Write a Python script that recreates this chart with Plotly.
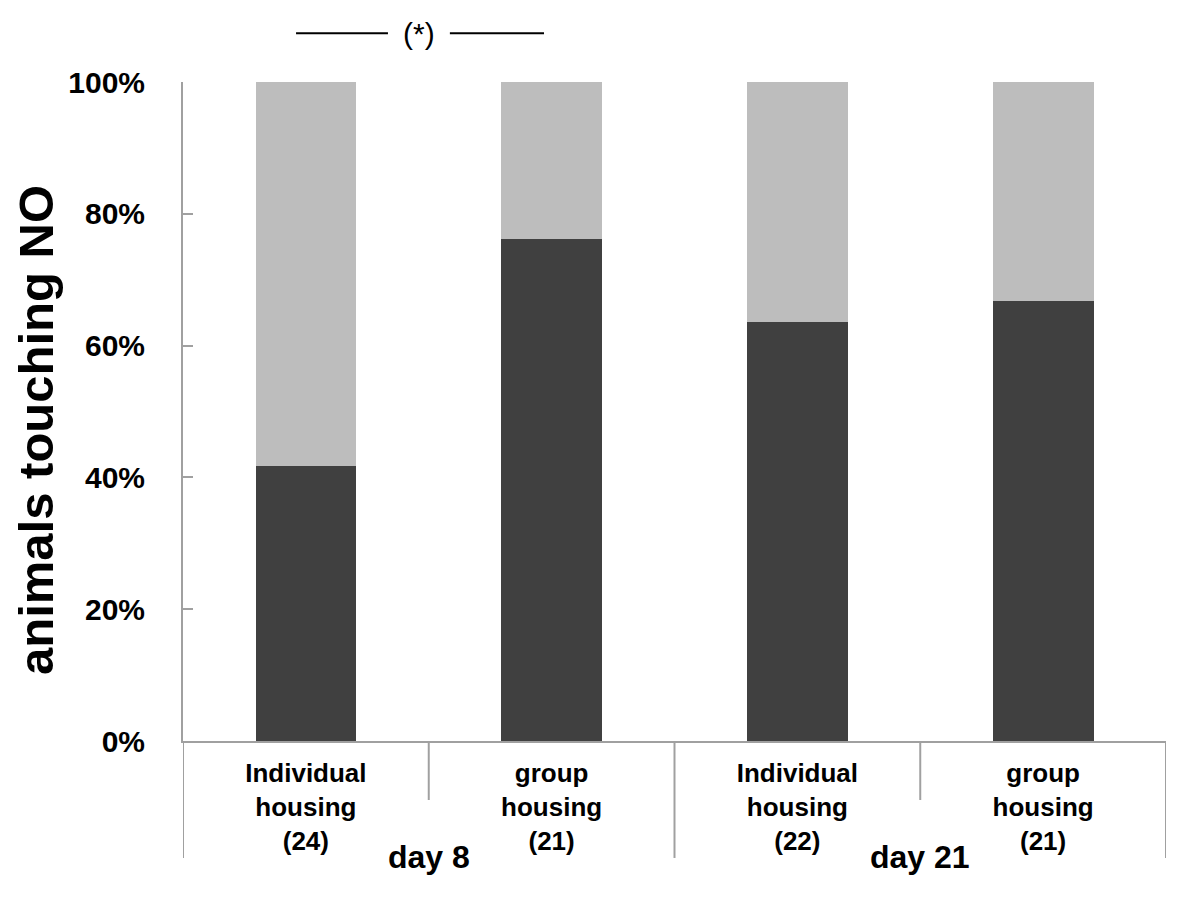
import plotly.graph_objects as go

# data
groups = ['Individual<br>housing<br>(24)', 'group<br>housing<br>(21)',
          'Individual<br>housing<br>(22)', 'group<br>housing<br>(21)']
touching = [0.417, 0.762, 0.636, 0.667]
not_touching = [1 - v for v in touching]
day_labels = ['day 8', 'day 21']
day_positions = [0.5, 2.5]
y_ticks = [0, 0.2, 0.4, 0.6, 0.8, 1.0]

DARK = '#404040'
LIGHT = '#bdbdbd'
AXIS_GREY = '#a0a0a0'
FONT = 'Liberation Sans, Arial, sans-serif'

x_pos = list(range(len(groups)))

fig = go.Figure()

fig.add_trace(go.Bar(
    x=x_pos, y=touching, marker_color=DARK, width=0.41,
    marker_line_width=0, showlegend=False
))
fig.add_trace(go.Bar(
    x=x_pos, y=not_touching, marker_color=LIGHT, width=0.41,
    marker_line_width=0, showlegend=False
))

# the page body adds 8px, so margins are trimmed on the left/top
fig.update_layout(
    barmode='stack',
    width=1200,
    height=903,
    margin=dict(l=175, r=42, t=74, b=170),
    plot_bgcolor='white',
    paper_bgcolor='white',
    font=dict(family=FONT, color='black'),
)

fig.update_xaxes(
    range=[-0.5, 3.5],
    tickvals=x_pos,
    ticktext=groups,
    tickfont=dict(size=26, weight='bold', family=FONT, color='black'),
    showline=True, linecolor=AXIS_GREY, linewidth=2,
    ticks='', showgrid=False, zeroline=False,
    ticklabelstandoff=8,
)
fig.update_yaxes(
    range=[0, 1],
    tickvals=y_ticks,
    tickformat='.0%',
    tickfont=dict(size=30, weight='bold', family=FONT, color='black'),
    showline=True, linecolor=AXIS_GREY, linewidth=2,
    ticks='inside', ticklen=10, tickcolor=AXIS_GREY, tickwidth=2,
    ticklabelstandoff=30,
    showgrid=False, zeroline=False,
)

# y title sits a bit below the plot centre in the original
fig.add_annotation(x=-0.1495, y=0.472, xref='paper', yref='paper',
                   text='animals touching NO', textangle=-90,
                   showarrow=False, xanchor='center', yanchor='middle',
                   font=dict(size=49, weight='bold', family=FONT, color='black'))

# category separators below the axis
sep_bottoms = {-0.5: -0.1775, 0.5: -0.0895, 1.5: -0.1775, 2.5: -0.0895, 3.5: -0.1775}
for xv, yb in sep_bottoms.items():
    fig.add_shape(type='line', xref='x', yref='paper', x0=xv, x1=xv, y0=0, y1=yb,
                  line=dict(color=AXIS_GREY, width=2))

for label, xv in zip(day_labels, day_positions):
    fig.add_annotation(x=xv, y=-0.176, xref='x', yref='paper', text=label,
                       showarrow=False, xanchor='center', yanchor='middle',
                       font=dict(size=32, weight='bold', family=FONT, color='black'))

# significance marker between day 8 groups
fig.add_shape(type='line', xref='x', yref='paper', x0=-0.04, x1=0.334, y0=1.074, y1=1.074,
              line=dict(color='black', width=2))
fig.add_shape(type='line', xref='x', yref='paper', x0=0.586, x1=0.969, y0=1.074, y1=1.074,
              line=dict(color='black', width=2))
fig.add_annotation(x=0.46, y=1.074, xref='x', yref='paper', text='(*)',
                   showarrow=False, xanchor='center', yanchor='middle',
                   font=dict(size=30, family=FONT, color='black'))

fig.write_html('out.html')
